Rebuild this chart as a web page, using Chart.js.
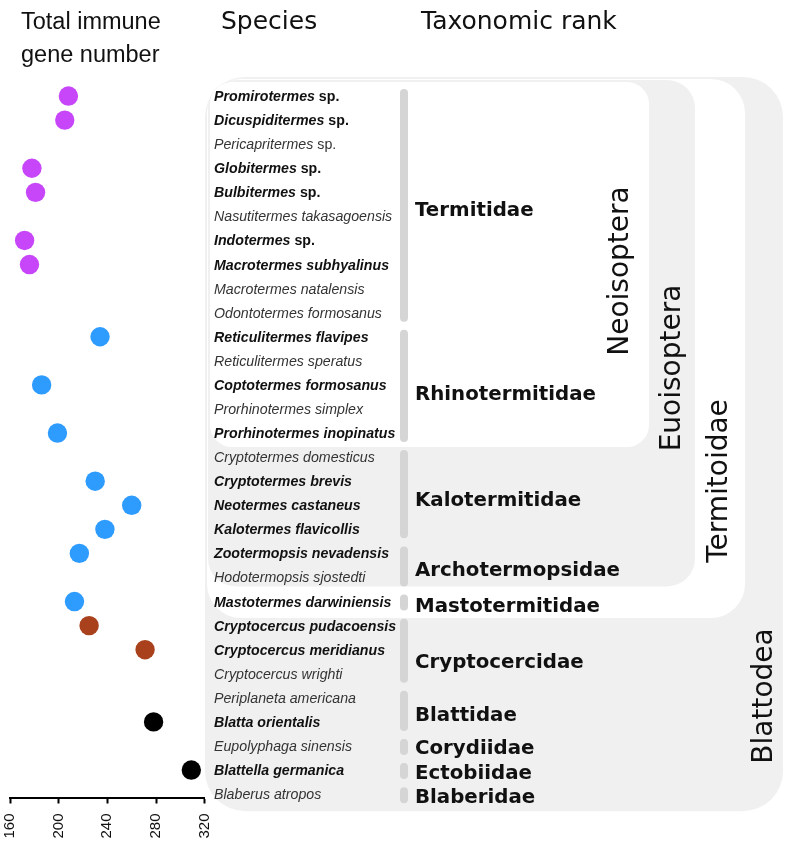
<!DOCTYPE html>
<html>
<head>
<meta charset="utf-8">
<script src="https://cdn.jsdelivr.net/npm/chart.js@4.4.1/dist/chart.umd.min.js"></script>
<style>
  html, body { margin: 0; padding: 0; background: #fff; }
  #wrap { width: 790px; height: 855px; }
</style>
</head>
<body>
<div id="wrap"><canvas id="chart" width="790" height="855"></canvas></div>
<script>
// immune gene counts per species, rows top to bottom
var species = [
  'Promirotermes sp.', 'Dicuspiditermes sp.', 'Pericapritermes sp.', 'Globitermes sp.', 'Bulbitermes sp.',
  'Nasutitermes takasagoensis', 'Indotermes sp.', 'Macrotermes subhyalinus', 'Macrotermes natalensis', 'Odontotermes formosanus',
  'Reticulitermes flavipes', 'Reticulitermes speratus', 'Coptotermes formosanus', 'Prorhinotermes simplex', 'Prorhinotermes inopinatus',
  'Cryptotermes domesticus', 'Cryptotermes brevis', 'Neotermes castaneus', 'Kalotermes flavicollis',
  'Zootermopsis nevadensis', 'Hodotermopsis sjostedti', 'Mastotermes darwiniensis',
  'Cryptocercus pudacoensis', 'Cryptocercus meridianus', 'Cryptocercus wrighti',
  'Periplaneta americana', 'Blatta orientalis', 'Eupolyphaga sinensis', 'Blattella germanica', 'Blaberus atropos'
];
// null = no count (those names are not bold)
var geneNumber = [208, 205, null, 178, 181, null, 172, 176, null, null,
                  234, null, 186, null, 199,
                  null, 230, 260, 238,
                  217, null, 213,
                  225, 271, null,
                  null, 278, null, 309, null];

var dotGroups = ['Termitidae', 'Other termites', 'Cryptocercus', 'Other cockroaches'];
var dotGroupLast = [9, 21, 24, 29];

var families = ['Termitidae', 'Rhinotermitidae', 'Kalotermitidae', 'Archotermopsidae', 'Mastotermitidae',
                'Cryptocercidae', 'Blattidae', 'Corydiidae', 'Ectobiidae', 'Blaberidae'];
var familyFirst = [0, 10, 15, 19, 21, 22, 25, 27, 28, 29];
var familyLast = [9, 14, 18, 20, 21, 24, 26, 27, 28, 29];

var clades = ['Neoisoptera', 'Euoisoptera', 'Termitoidae', 'Blattodea'];
var cladeLast = [14, 20, 21, 29];

var xTicks = [160, 200, 240, 280, 320];

(function() {
  var ctx = document.getElementById('chart').getContext('2d');

  var groupColors = ['#c746f9', '#2e9bfe', '#a8411c', '#000000'];
  var sansFont = '"Liberation Sans", Arial, sans-serif';
  var dejaFont = '"DejaVu Sans", Verdana, sans-serif';

  var datasets = dotGroups.map(function(name, g) {
    var first = g === 0 ? 0 : dotGroupLast[g - 1] + 1;
    var pts = [];
    for (var r = first; r <= dotGroupLast[g]; r++) {
      if (geneNumber[r] !== null) pts.push({ x: geneNumber[r], y: r });
    }
    return {
      label: name,
      data: pts,
      backgroundColor: groupColors[g],
      borderWidth: 0,
      pointRadius: 9.7,
      pointHoverRadius: 9.7
    };
  });

  function roundBox(c, x0, y0, x1, y1, r) {
    c.beginPath();
    c.moveTo(x0 + r, y0);
    c.lineTo(x1 - r, y0);
    c.arcTo(x1, y0, x1, y0 + r, r);
    c.lineTo(x1, y1 - r);
    c.arcTo(x1, y1, x1 - r, y1, r);
    c.lineTo(x0 + r, y1);
    c.arcTo(x0, y1, x0, y1 - r, r);
    c.lineTo(x0, y0 + r);
    c.arcTo(x0, y0, x0 + r, y0, r);
    c.closePath();
    c.fill();
  }

  // boxes, species names, family bars and rank labels drawn beside the dot plot
  var taxonomyPlugin = {
    id: 'taxonomy',
    beforeDatasetsDraw: function(chart) {
      var c = chart.ctx;
      var ys = chart.scales.y;
      function rowY(r) { return ys.getPixelForValue(r); }

      c.save();

      // headers
      c.fillStyle = '#111';
      c.textAlign = 'left';
      c.textBaseline = 'alphabetic';
      c.font = '23.5px ' + sansFont;
      c.fillText('Total immune', 21, 28.5);
      c.fillText('gene number', 21, 62);
      c.font = '25px ' + dejaFont;
      c.fillText('Species', 221, 29);
      c.fillText('Taxonomic rank', 421, 29);

      // nested clade boxes (outermost first)
      var boxLeft = [210, 208, 207, 205];
      var boxTop = [82, 80, 79, 77];
      var boxRight = [649, 695, 745, 783];
      var boxPad = [14, 9, 16.5, 17];
      var boxRad = [22, 28, 34, 40];
      var boxFill = ['#ffffff', '#f0f0f0', '#ffffff', '#f0f0f0'];
      for (var b = clades.length - 1; b >= 0; b--) {
        c.fillStyle = boxFill[b];
        roundBox(c, boxLeft[b], boxTop[b], boxRight[b], rowY(cladeLast[b]) + boxPad[b], boxRad[b]);
      }

      // clade labels, rotated
      var cladeBase = [628, 680, 727, 772];
      var cladeMid = [271, 368, 481, 696];
      c.fillStyle = '#111';
      c.font = '28px ' + dejaFont;
      c.textAlign = 'center';
      for (var k = 0; k < clades.length; k++) {
        c.save();
        c.translate(cladeBase[k], cladeMid[k]);
        c.rotate(-Math.PI / 2);
        c.fillText(clades[k], 0, 0);
        c.restore();
      }

      // family bars and labels
      var labelDy = [11.7, 15, 12.8, 10.6, 10.5, 18.7, 11.2, 8, 9, 9.3];
      for (var f = 0; f < families.length; f++) {
        var top = rowY(familyFirst[f]) - 7;
        var bot = rowY(familyLast[f]) + 9;
        c.fillStyle = '#d5d5d5';
        roundBox(c, 400, top, 408, bot, 4);
        var mid = (rowY(familyFirst[f]) + rowY(familyLast[f])) / 2;
        c.fillStyle = '#111';
        c.textAlign = 'left';
        c.font = 'bold 19.8px ' + dejaFont;
        c.fillText(families[f], 415, mid + labelDy[f]);
      }

      // species names: bold if counted, "sp." upright
      c.textAlign = 'left';
      for (var r = 0; r < species.length; r++) {
        var bold = geneNumber[r] !== null;
        var weight = bold ? 'bold ' : '';
        var name = species[r];
        var rest = '';
        if (/ sp\.$/.test(name)) {
          rest = ' sp.';
          name = name.slice(0, -4);
        }
        var yy = rowY(r) + 5;
        c.fillStyle = bold ? '#111' : '#333';
        c.font = 'italic ' + weight + '14.2px ' + sansFont;
        c.fillText(name, 214, yy);
        if (rest) {
          var w = c.measureText(name).width;
          c.font = weight + '14.2px ' + sansFont;
          c.fillText(rest, 214 + w, yy);
        }
      }

      c.restore();
    }
  };

  if (ctx) {
    new Chart(ctx, {
      type: 'scatter',
      data: { datasets: datasets },
      options: {
        responsive: false,
        animation: false,
        events: [],
        layout: { autoPadding: false, padding: { left: 8.3, right: 585.3, top: 0, bottom: 0 } },
        scales: {
          x: {
            type: 'linear',
            min: xTicks[0],
            max: xTicks[xTicks.length - 1],
            afterBuildTicks: function(s) {
              s.ticks = xTicks.map(function(v) { return { value: v }; });
            },
            afterFit: function(s) { s.height = 57.5; },
            ticks: {
              minRotation: 90,
              maxRotation: 90,
              padding: 10,
              color: '#111',
              font: { family: sansFont, size: 15 }
            },
            grid: {
              drawOnChartArea: false,
              tickLength: 6,
              tickWidth: 2,
              tickColor: '#000'
            },
            border: { color: '#000', width: 2 }
          },
          y: {
            type: 'linear',
            display: false,
            reverse: true,
            min: -3.99,
            max: 29.14
          }
        },
        plugins: {
          legend: { display: false },
          tooltip: { enabled: false }
        }
      },
      plugins: [taxonomyPlugin]
    });
  } else {
    console.error("Canvas context 'ctx' not found.");
  }
})();
</script>
</body>
</html>
